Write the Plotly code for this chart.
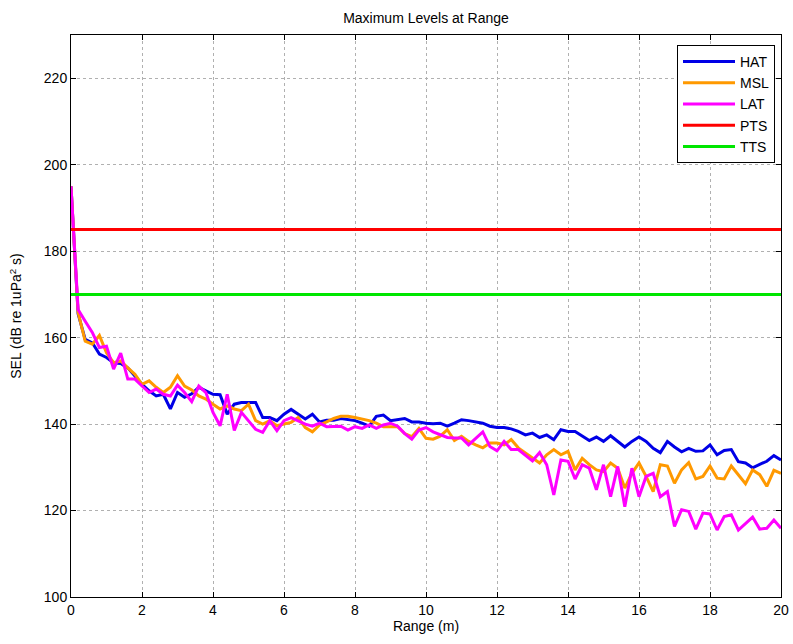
import plotly.graph_objects as go

range_m = [round(i * 0.2, 1) for i in range(101)]

hat = [195, 165.5, 159.6, 158.8, 156.2, 155.4, 154.2, 154.0, 153, 151.2,
       149.2, 147.7, 146.5, 146.9, 143.5, 147.3, 146.2, 147.0, 148.5, 147.7,
       146.9, 146.8, 142.3, 144.6, 145, 145, 145, 141.5, 141.5, 140.8,
       142.3, 143.4, 142.3, 141.2, 142.3, 140.5, 140.9, 140.9, 141.3, 141.1,
       140.8, 140.2, 139.5, 141.8, 142.1, 140.8, 141.1, 141.3, 140.5, 140.5,
       140.2, 140.1, 140.2, 139.5, 140.2, 141, 140.8, 140.5, 140.2, 139.5,
       139.2, 139.2, 138.9, 138.3, 137.5, 137.9, 136.9, 137.5, 136.4, 138.7,
       138.3, 138.3, 137.3, 136.2, 137, 136, 137.3, 136, 134.7, 136,
       137, 136, 134.4, 133.4, 136, 134.7, 133.6, 134.4, 133.7, 133.8,
       135.2, 132.9, 133.9, 134.1, 131.3, 131, 129.9, 130.7, 131.4, 132.7,
       131.7]

msl = [195, 165.8, 159.2, 158.5, 160.5, 156.5, 154.2, 154.6, 153, 151.5,
       149.2, 150, 148.5, 147.3, 148.5, 151.2, 148.8, 147.9, 146.5, 145.8,
       144.6, 143.5, 144.2, 143.5, 143.1, 144.6, 140.8, 140, 140.8, 139.6,
       140, 140.4, 141.5, 139.2, 138.2, 139.8, 140.5, 141.3, 141.8, 141.8,
       141.5, 141.1, 140.8, 140.2, 139.4, 139.4, 139.4, 137.8, 137.1, 139,
       136.7, 136.5, 137.2, 138.7, 136.2, 137.2, 136, 135.2, 134.5, 135.6,
       135.6, 135.2, 136.4, 134.5, 133.3, 132.2, 131, 132.9, 134.1, 132.9,
       133.7, 129.4, 132.1, 130.6, 129.4, 129, 131, 129.8, 125.2, 128.6,
       131, 127.9, 124.4, 130.6, 130.3, 126.3, 129.4, 131.1, 127.3, 127.9,
       130.3, 127.5, 127.3, 130.3, 128.3, 126.2, 129.4, 128.3, 125.6, 129.3,
       128.6]

lat = [195, 166.5, 163.8, 161.2, 157.7, 158, 152.7, 156.4, 150.4, 150.4,
       148.8, 147.3, 148.1, 146.9, 146.5, 149, 147.3, 145.2, 148.8, 147.3,
       142.7, 139.6, 146.9, 138.5, 142.7, 140.8, 138.8, 138.1, 140.8, 138.5,
       140.8, 141.5, 140.8, 140, 139.5, 140.2, 139.4, 139.4, 139.5, 138.6,
       139.4, 139, 139.8, 139, 139.8, 140.2, 139.5, 137.8, 136.5, 138.6,
       139.2, 138.2, 137.5, 136.9, 136.8, 136.8, 135.2, 136.8, 138.2, 134.8,
       133.8, 136, 134.1, 134.1, 132.9, 131.5, 133.4, 130.6, 123.6, 131.7,
       131.4, 127.3, 130.6, 129.8, 124.8, 130.6, 123.2, 130.2, 120.9, 129.8,
       123.2, 127.9, 128.6, 123.2, 124.4, 116.3, 120.2, 119.8, 115.7, 119.4,
       119.2, 115.5, 118.6, 119, 115.5, 117.1, 118.5, 115.7, 115.9, 117.8,
       115.9]

threshold_x = [0, 20]
pts = [185, 185]
tts = [170, 170]

x_ticks = list(range(0, 21, 2))
y_ticks = list(range(100, 221, 20))

FONT = "Liberation Sans, Arial, sans-serif"

fig = go.Figure()
series = [
    ("HAT", range_m, hat, "rgb(0,0,230)"),
    ("MSL", range_m, msl, "rgb(255,153,0)"),
    ("LAT", range_m, lat, "rgb(255,0,255)"),
    ("PTS", threshold_x, pts, "rgb(255,0,0)"),
    ("TTS", threshold_x, tts, "rgb(0,230,0)"),
]
for name, xs, ys, col in series:
    fig.add_trace(go.Scatter(x=xs, y=ys, mode="lines", name=name,
                             line=dict(color=col, width=3)))

axis_common = dict(
    showline=True, linecolor="black", linewidth=1, mirror="ticks",
    ticks="inside", ticklen=5, tickcolor="black",
    showgrid=True, gridcolor="#b0b0b0", griddash="dot", gridwidth=1,
    zeroline=False, tickfont=dict(family=FONT, size=14, color="black"),
)

fig.update_layout(
    width=793, height=644,
    margin=dict(l=71, r=12, t=35, b=47),
    paper_bgcolor="white", plot_bgcolor="white",
    title=dict(text="Maximum Levels at Range", x=0.5, xref="paper",
               y=1 - 18 / 644, yanchor="middle",
               font=dict(family=FONT, size=14, color="black")),
    xaxis=dict(range=[0, 20], tickvals=x_ticks, automargin=False,
               title=dict(text="Range (m)", standoff=4,
                          font=dict(family=FONT, size=14, color="black")),
               **axis_common),
    yaxis=dict(range=[100, 230], tickvals=y_ticks, automargin=False,
               title=dict(text="SEL (dB re 1uPa<sup>2</sup> s)", standoff=18,
                          font=dict(family=FONT, size=14, color="black")),
               **axis_common),
    legend=dict(x=(775 - 71) / 710, xanchor="right", y=(597 - 45) / 562,
                yanchor="top", bgcolor="white", bordercolor="black",
                borderwidth=1, itemwidth=52,
                font=dict(family=FONT, size=14, color="black"),
                tracegroupgap=0),
    showlegend=True,
)

fig.write_html("out.html",
               config={"displayModeBar": False},
               post_script="document.body.style.margin='0';document.body.style.padding='0';")
